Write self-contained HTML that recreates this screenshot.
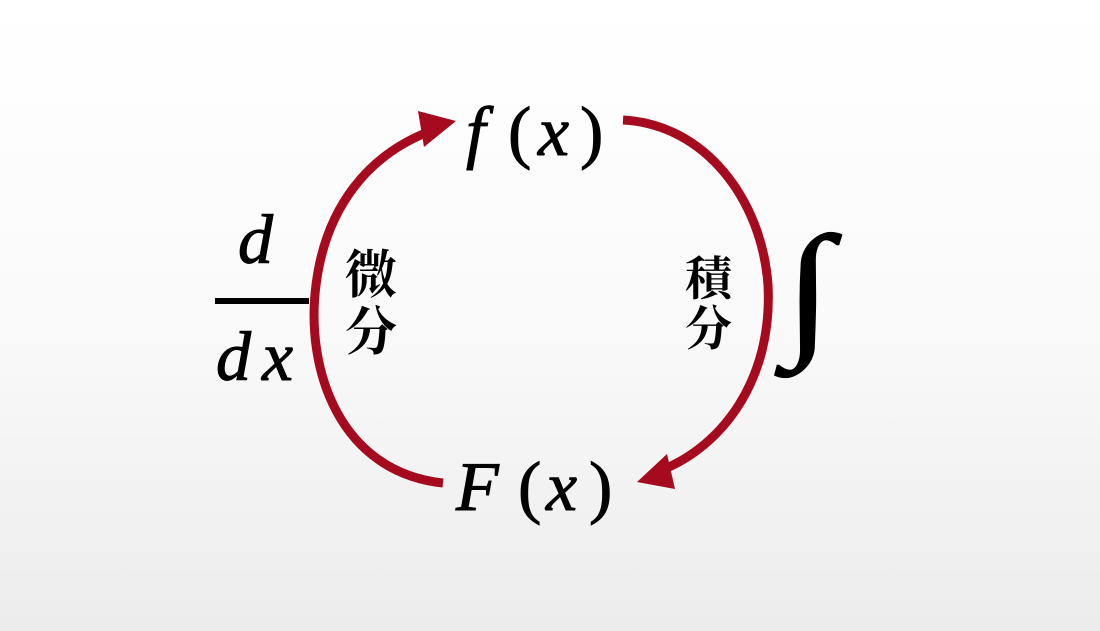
<!DOCTYPE html>
<html><head><meta charset="utf-8"><style>
html,body{margin:0;padding:0;}
body{width:1100px;height:631px;overflow:hidden;background:linear-gradient(#ffffff 0%,#fafafa 50%,#ececec 100%);}
svg{display:block}
.m{font-family:"Liberation Serif","DejaVu Serif",serif;font-style:italic;fill:#000;stroke:#000;stroke-width:1}
.u{font-family:"Liberation Serif","DejaVu Serif",serif;fill:#000;stroke:#000;stroke-width:1}
.k{font-family:"Liberation Serif","Noto Serif CJK SC",serif;font-weight:bold;fill:#000}
</style></head><body>
<svg width="1100" height="631" viewBox="0 0 1100 631">
<g fill="none" stroke="#a50a1e" stroke-width="9">
<path d="M443,483 C340,472 305,370 316,285 C326,205 370,155 428,132"/>
<path d="M623,120 C705,124 762,200 768,285 C773,380 722,446 662,470"/>
</g>
<polygon points="418,111 456,121 424,147" fill="#a50a1e"/>
<polygon points="667,454 637,482 675,489" fill="#a50a1e"/>
<text class="m" x="466" y="155" font-size="70">f</text>
<text class="u" x="508" y="155" font-size="70">(</text>
<text class="m" x="538" y="155" font-size="70">x</text>
<text class="u" x="580" y="155" font-size="70">)</text>
<text class="m" x="456" y="510" font-size="70">F</text>
<text class="u" x="518" y="510" font-size="70">(</text>
<text class="m" x="546" y="510" font-size="70">x</text>
<text class="u" x="589" y="510" font-size="70">)</text>
<text class="m" x="238" y="263" font-size="70">d</text>
<rect x="215" y="298" width="94" height="6" fill="#000"/>
<text class="m" x="216" y="380" font-size="70">d</text>
<text class="m" x="262" y="380" font-size="70">x</text>
<text class="u" font-size="148" stroke-width="2" transform="translate(784,338) scale(1.2,1)">∫</text>
<text class="k" x="345" y="293" font-size="52">微</text>
<text class="k" x="345" y="350" font-size="52">分</text>
<text class="k" x="685" y="295" font-size="47">積</text>
<text class="k" x="685" y="345" font-size="47">分</text>
</svg>
</body></html>
